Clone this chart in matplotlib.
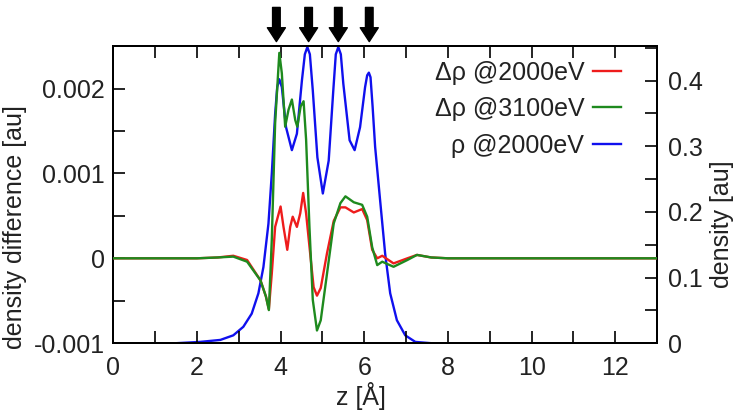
import matplotlib
matplotlib.use("Agg")
import matplotlib.pyplot as plt
from matplotlib.ticker import MultipleLocator

plt.rcParams['font.family'] = ['Liberation Sans', 'DejaVu Sans']

# density difference @2000eV (left axis)
z_red = [0.0, 1.0, 2.0, 2.5, 2.87, 3.2, 3.52, 3.65, 3.72, 3.79, 3.87, 4.0, 4.07, 4.16, 4.23, 4.29,
         4.39, 4.47, 4.54, 4.61, 4.69, 4.79, 4.87, 4.96, 5.11, 5.27, 5.43, 5.55, 5.75, 5.95,
         6.07, 6.19, 6.31, 6.43, 6.7, 7.03, 7.26, 7.6, 8.0, 13.0]
d_red = [0.0, 0.0, 0.0, 0.00001, 0.00003, -0.00002, -0.00026, -0.00045, -0.0006, -0.00018, 0.00037,
         0.00061, 0.00037, 0.0001, 0.00037, 0.00049, 0.00037, 0.00053, 0.00077, 0.00053, 0.00014,
         -0.00034, -0.00044, -0.00035, 0.00006, 0.00044, 0.0006, 0.0006, 0.00054, 0.00058,
         0.00045, 0.0001, 0.0, 0.00003, -0.00006, 0.0, 0.00004, 0.00001, 0.0, 0.0]

# density difference @3100eV (left axis)
z_green = [0.0, 1.0, 2.0, 2.5, 2.87, 3.2, 3.52, 3.65, 3.72, 3.79, 3.87, 3.97, 4.03, 4.11, 4.19,
           4.27, 4.35, 4.40, 4.48, 4.55, 4.61, 4.69, 4.77, 4.87, 4.96, 5.11, 5.27, 5.43, 5.55,
           5.75, 5.95, 6.07, 6.19, 6.31, 6.43, 6.7, 7.03, 7.26, 7.6, 8.0, 13.0]
d_green = [0.0, 0.0, 0.0, 0.00001, 0.00002, -0.00004, -0.00026, -0.00045, -0.00061, 0.00022,
           0.00159, 0.00242, 0.00218, 0.00155, 0.00175, 0.00187, 0.00163, 0.00155, 0.00179,
           0.00185, 0.0014, 0.00037, -0.00049, -0.00085, -0.00073, -0.00018, 0.00041, 0.00065,
           0.00073, 0.00066, 0.00063, 0.00049, 0.00013, -0.00008, -0.00004, -0.0001, -0.00002,
           0.00004, 0.00001, 0.0, 0.0]

# density @2000eV (right axis)
z_blue = [0.0, 1.5, 2.08, 2.56, 2.87, 3.11, 3.31, 3.47, 3.59, 3.71, 3.79, 3.87, 3.92, 3.97, 4.03,
          4.13, 4.27, 4.39, 4.51, 4.58, 4.64, 4.70, 4.77, 4.88, 5.01, 5.15, 5.26, 5.32, 5.38,
          5.44, 5.50, 5.65, 5.77, 5.90, 6.02, 6.07, 6.11, 6.15, 6.20, 6.26, 6.38, 6.50, 6.62,
          6.78, 6.98, 7.22, 7.6, 13.0]
rho_blue = [0.0, 0.0, 0.002, 0.005, 0.012, 0.025, 0.045, 0.076, 0.116, 0.182, 0.258, 0.349, 0.39,
            0.402, 0.39, 0.329, 0.294, 0.319, 0.40, 0.44, 0.451, 0.44, 0.385, 0.283, 0.228, 0.278,
            0.385, 0.44, 0.451, 0.44, 0.395, 0.309, 0.294, 0.329, 0.39, 0.408, 0.412, 0.405, 0.36,
            0.299, 0.217, 0.136, 0.076, 0.035, 0.012, 0.002, 0.0, 0.0]

arrow_z = [3.9, 4.67, 5.38, 6.12]
labels = ["Δρ @2000eV", "Δρ @3100eV", "ρ @2000eV"]

txt = '#222222'
fs = 18
fig, ax = plt.subplots(figsize=(7.4, 4.15), dpi=100)
fig.subplots_adjust(left=0.153, right=0.888, top=0.889, bottom=0.173)
ax2 = ax.twinx()

l1, = ax.plot(z_red, d_red, color='#ee1c1c', lw=1.7, zorder=3)
l2, = ax.plot(z_green, d_green, color='#1e8a1e', lw=1.7, zorder=4)
l3, = ax2.plot(z_blue, rho_blue, color='#1010ee', lw=1.7)
ax.set_zorder(ax2.get_zorder() + 1)
ax.patch.set_visible(False)

ax.set_xlim(0, 13)
ax.set_ylim(-0.001, 0.0025)
ax2.set_ylim(0, 0.4525)

ax.xaxis.set_major_locator(MultipleLocator(2))
ax.xaxis.set_minor_locator(MultipleLocator(1))
ax.yaxis.set_major_locator(MultipleLocator(0.001))
ax.yaxis.set_minor_locator(MultipleLocator(0.0005))
ax2.yaxis.set_major_locator(MultipleLocator(0.1))
ax2.yaxis.set_minor_locator(MultipleLocator(0.05))

ax.set_yticks([-0.001, 0, 0.001, 0.002])
ax.set_yticklabels(["-0.001", "0", "0.001", "0.002"])
ax2.set_yticks([0, 0.1, 0.2, 0.3, 0.4])
ax2.set_yticklabels(["0", "0.1", "0.2", "0.3", "0.4"])

for a in (ax, ax2):
    a.tick_params(which='both', direction='in', length=8.5, width=1.2, labelsize=fs,
                  labelcolor=txt, pad=6)
    for s in a.spines.values():
        s.set_linewidth(1.4)
ax.tick_params(which='both', top=True, right=False)
ax.tick_params(axis='x', pad=9)
ax2.tick_params(which='both', left=False, right=True, pad=8)

ax.set_xlabel("z [Å]", fontsize=fs, color=txt)
ax.set_ylabel("density difference [au]", fontsize=fs, color=txt)
ax2.set_ylabel("density [au]", fontsize=fs, color=txt, rotation=90)
# gnuplot-like label placement (slightly off centre)
ax.xaxis.set_label_coords(0.455, -0.132)
ax.yaxis.set_label_coords(-0.158, 0.39)
ax2.yaxis.set_label_coords(1.097, 0.40)

leg = ax.legend([l1, l2, l3], labels, loc='upper right', markerfirst=False, frameon=False,
                fontsize=fs, labelspacing=0.5, handlelength=1.1, handletextpad=0.35,
                bbox_to_anchor=(0.965, 1.01), borderaxespad=0.3)
for t in leg.get_texts():
    t.set_color(txt)

for zx in arrow_z:
    ax.annotate('', xy=(zx, 1.015), xytext=(zx, 1.13), xycoords=('data', 'axes fraction'),
                textcoords=('data', 'axes fraction'), annotation_clip=False,
                arrowprops=dict(arrowstyle='simple,head_width=1.3,head_length=1.0,tail_width=0.55',
                                color='black', shrinkA=0, shrinkB=0))

fig.savefig("out.png")
